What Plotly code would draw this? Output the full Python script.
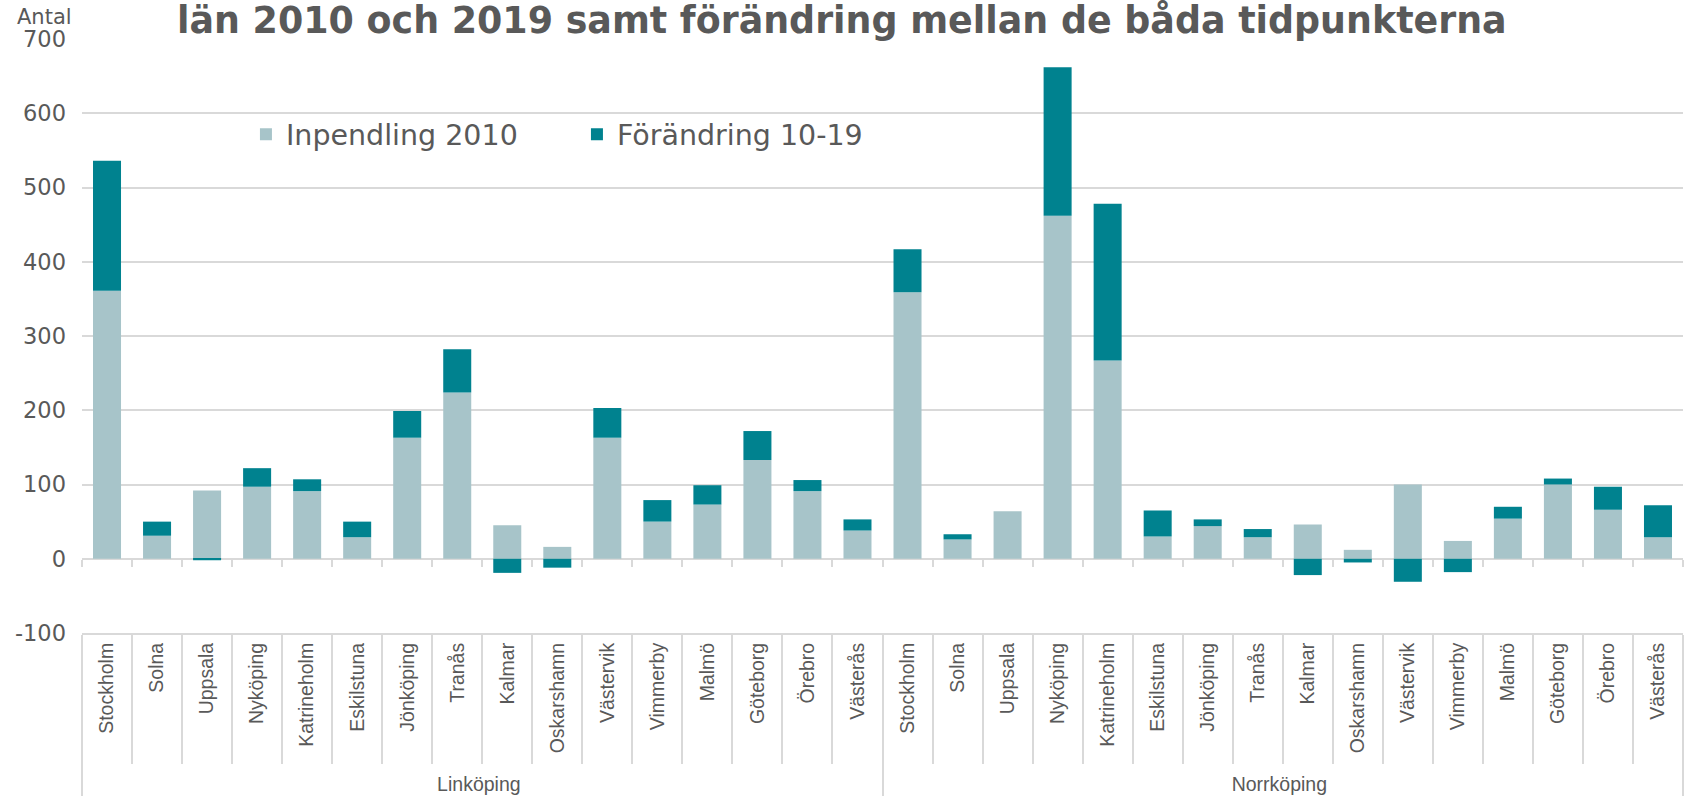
import plotly.graph_objects as go

groups = ["Linköping", "Norrköping"]
cities = ["Stockholm", "Solna", "Uppsala", "Nyköping", "Katrineholm", "Eskilstuna",
          "Jönköping", "Tranås", "Kalmar", "Oskarshamn", "Västervik", "Vimmerby",
          "Malmö", "Göteborg", "Örebro", "Västerås"]

lkp_2010 = [361, 31, 92, 97, 91, 29, 163, 224, 45, 16, 163, 50, 73, 133, 91, 38]
lkp_change = [175, 19, -2, 25, 16, 21, 36, 58, -19, -12, 40, 29, 26, 39, 15, 15]
nkp_2010 = [359, 26, 64, 462, 267, 30, 44, 29, 46, 12, 100, 24, 54, 100, 66, 29]
nkp_change = [58, 7, 0, 200, 211, 35, 9, 11, -22, -5, -31, -18, 16, 8, 31, 43]

title_text = "län 2010 och 2019 samt förändring mellan de båda tidpunkterna"
y_title = "Antal"
y_ticks = [-100, 0, 100, 200, 300, 400, 500, 600, 700]
y_ticktext = [str(v) for v in y_ticks]

x_level0 = [groups[0]] * len(cities) + [groups[1]] * len(cities)
x_level1 = cities + cities
base = lkp_2010 + nkp_2010
change = lkp_change + nkp_change

LIGHT = "#A7C4C9"
DARK = "#00828F"
GRID = "#D9D9D9"
TXT = "#595959"

fig = go.Figure()
fig.add_trace(go.Bar(x=[x_level0, x_level1], y=base, name="Inpendling 2010",
                     marker=dict(color=LIGHT, line=dict(width=0))))
fig.add_trace(go.Bar(x=[x_level0, x_level1], y=change, name="Förändring 10-19",
                     marker=dict(color=DARK, line=dict(width=0))))
# helper trace so the category tick marks can also be drawn on the zero line
fig.add_trace(go.Scatter(x=[x_level0, x_level1], y=base, xaxis="x2", mode="none",
                         showlegend=False, hoverinfo="skip"))

n = len(x_level1)

fig.update_layout(
    width=1688, height=797,
    barmode="relative", bargap=0.44,
    plot_bgcolor="white", paper_bgcolor="white",
    margin=dict(l=82, r=5, t=39, b=164),
    font=dict(family="DejaVu Sans", color=TXT),
    showlegend=True,
    legend=dict(orientation="h", x=0.1024, xanchor="left", y=0.839, yanchor="middle",
                font=dict(family="DejaVu Sans", size=28.5, color=TXT),
                entrywidthmode="pixels", entrywidth=286,
                bgcolor="rgba(0,0,0,0)", traceorder="normal"),
    xaxis=dict(type="multicategory", tickson="boundaries", ticks="outside",
               ticklen=129, tickwidth=2, tickcolor=GRID,
               showline=True, linecolor=GRID, linewidth=2,
               showdividers=True, dividercolor=GRID, dividerwidth=2,
               tickangle=-90, showgrid=False, range=[-0.5, n - 0.5],
               tickfont=dict(family="Liberation Sans", size=19.5, color=TXT),
               automargin=False),
    xaxis2=dict(type="multicategory", overlaying="x", anchor="free", position=0.125,
                tickson="boundaries", ticks="outside", ticklen=7, tickwidth=2,
                tickcolor=GRID, showline=False, showgrid=False, showdividers=False,
                showticklabels=False, range=[-0.5, n - 0.5], automargin=False),
    yaxis=dict(range=[-100, 700], tickvals=y_ticks, ticktext=y_ticktext,
               showgrid=True, gridcolor=GRID,
               gridwidth=2, zeroline=True, zerolinecolor=GRID, zerolinewidth=2,
               showline=False, ticks="", ticklabelstandoff=15,
               tickfont=dict(family="DejaVu Sans", size=22.5, color=TXT),
               automargin=False),
    annotations=[
        dict(text=title_text, x=0.4747, y=1.031, xref="paper", yref="paper",
             xanchor="center", yanchor="middle", showarrow=False,
             font=dict(family="DejaVu Sans", size=36.4, color=TXT, weight="bold")),
        dict(text=y_title, x=-0.0234, y=1.0362, xref="paper", yref="paper",
             xanchor="center", yanchor="middle", showarrow=False,
             font=dict(family="DejaVu Sans", size=21, color=TXT)),
    ],
)

fig.write_html("out.html", config={"displayModeBar": False},
               post_script="document.body.style.margin='0';document.body.style.overflow='hidden';")
